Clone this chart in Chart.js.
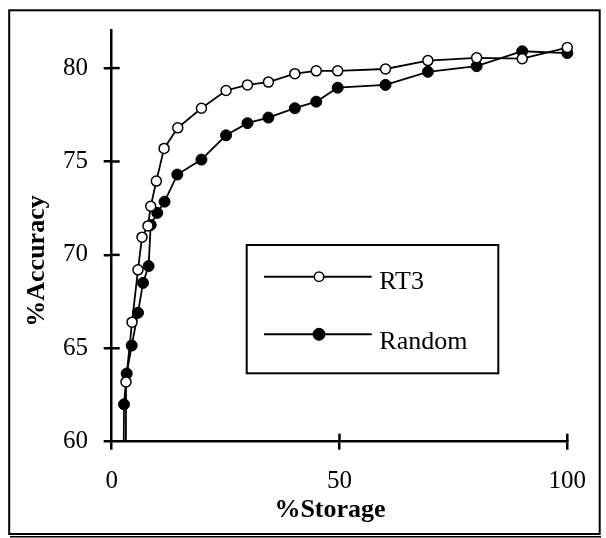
<!DOCTYPE html>
<html>
<head>
<meta charset="utf-8">
<script src="https://cdn.jsdelivr.net/npm/chart.js@4.4.0/dist/chart.umd.min.js"></script>
<style>
  html, body { margin: 0; padding: 0; background: #fff; }
  #wrap { position: relative; width: 606px; height: 538px; }
</style>
</head>
<body>
<div id="wrap"><canvas id="c" width="606" height="538"></canvas></div>
<script>
// ---- data ----
const seriesNames = ['RT3', 'Random'];
const rt3Storage  = [3.1, 3.14, 4.46, 5.77, 6.65, 7.97, 8.56, 9.8, 11.5, 14.5, 19.7, 25.1, 29.8, 34.4, 40.2, 44.9, 49.6, 60.1, 69.4, 80.1, 90.1, 100];
const rt3Accuracy = [55, 63.2, 66.4, 69.2, 70.95, 71.55, 72.6, 73.95, 75.7, 76.8, 77.85, 78.8, 79.1, 79.25, 79.7, 79.85, 79.85, 79.95, 80.4, 80.55, 80.5, 81.1];
const randomStorage  = [2.5, 2.7, 3.29, 4.39, 5.77, 6.87, 8.1, 8.56, 10.0, 11.6, 14.4, 19.7, 25.1, 29.8, 34.4, 40.2, 44.9, 49.6, 60.1, 69.4, 80.1, 90.1, 100];
const randomAccuracy = [55, 62.0, 63.65, 65.15, 66.9, 68.5, 69.4, 71.6, 72.25, 72.85, 74.3, 75.1, 76.4, 77.05, 77.35, 77.85, 78.2, 78.95, 79.1, 79.8, 80.1, 80.9, 80.8];
const xTickValues = [0, 50, 100];
const yTickValues = [60, 65, 70, 75, 80];
const xTitle = '%Storage';
const yTitle = '%Accuracy';

// ---- styles ----
const FONT = '"Liberation Serif", "Times New Roman", serif';
const W = 606, H = 538;
const AXIS_LEFT = 111.7, AXIS_BOTTOM = 441.7, AXIS_TOP = 30.5, AXIS_RIGHT = 567.3;
const TICK = 8, AXIS_W = 2.5;

function pts(xs, ys) { return xs.map((x, i) => ({ x: x, y: ys[i] })); }

const decor = {
  id: 'decor',
  beforeDraw(chart) {
    const ctx = chart.ctx;
    ctx.save();
    ctx.fillStyle = '#fff';
    ctx.fillRect(0, 0, chart.width, chart.height);
    ctx.restore();
  },
  afterDraw(chart) {
    const ctx = chart.ctx;
    const xs = chart.scales.x, ys = chart.scales.y;
    const area = chart.chartArea;
    ctx.save();
    // inner halves of tick marks
    ctx.strokeStyle = '#000';
    ctx.lineWidth = AXIS_W;
    ys.ticks.forEach(t => {
      if (t.value === ys.min) return;
      const y = ys.getPixelForValue(t.value);
      ctx.beginPath(); ctx.moveTo(area.left, y); ctx.lineTo(area.left + TICK, y); ctx.stroke();
    });
    xs.ticks.forEach(t => {
      if (t.value === xs.min) return;
      const x = xs.getPixelForValue(t.value);
      ctx.beginPath(); ctx.moveTo(x, area.bottom); ctx.lineTo(x, area.bottom - TICK); ctx.stroke();
    });

    // axis titles
    ctx.fillStyle = '#000';
    ctx.font = 'bold 26px ' + FONT;
    ctx.textAlign = 'center';
    ctx.textBaseline = 'middle';
    ctx.fillText(xTitle, 330, 510);
    ctx.save();
    ctx.translate(37, 261);
    ctx.rotate(-Math.PI / 2);
    ctx.fillText(yTitle, 0, 0);
    ctx.restore();

    // legend box
    const bx = 246.7, by = 245, bw = 251.6, bh = 128.3;
    ctx.fillStyle = '#fff';
    ctx.fillRect(bx, by, bw, bh);
    ctx.lineWidth = 2;
    ctx.strokeStyle = '#000';
    ctx.strokeRect(bx, by, bw, bh);
    const rows = [
      { y: 276.7, ty: 282, r: 4.7 },
      { y: 334.3, ty: 342, r: 6 }
    ];
    chart.data.datasets.forEach((ds, i) => {
      const row = rows[i];
      ctx.strokeStyle = ds.borderColor;
      ctx.lineWidth = 2;
      ctx.beginPath(); ctx.moveTo(264, row.y); ctx.lineTo(371.7, row.y); ctx.stroke();
      ctx.beginPath(); ctx.arc(319, row.y, row.r, 0, Math.PI * 2);
      ctx.fillStyle = ds.pointBackgroundColor; ctx.fill();
      ctx.lineWidth = ds.pointBorderWidth; ctx.strokeStyle = ds.pointBorderColor; ctx.stroke();
      ctx.fillStyle = '#000';
      ctx.font = '26px ' + FONT;
      ctx.textAlign = 'left';
      ctx.textBaseline = 'middle';
      ctx.fillText(ds.label, 379.3, row.ty);
    });

    // outer frame
    ctx.strokeStyle = '#000';
    ctx.lineWidth = 2;
    ctx.strokeRect(9.2, 10.3, 590.5, 523.7);
    ctx.lineWidth = 1.5;
    ctx.beginPath(); ctx.moveTo(10, 536.7); ctx.lineTo(601, 536.7); ctx.stroke();
    ctx.restore();
  }
};

const chart = new Chart(document.getElementById('c'), {
  type: 'line',
  data: {
    datasets: [
      {
        label: seriesNames[0],
        data: pts(rt3Storage, rt3Accuracy),
        borderColor: '#000', borderWidth: 1.8,
        pointRadius: 5, pointBackgroundColor: '#fff', pointBorderColor: '#000', pointBorderWidth: 1.5,
        pointHoverRadius: 5, tension: 0,
        clip: { left: 0, top: 10, right: 10, bottom: 0 }
      },
      {
        label: seriesNames[1],
        data: pts(randomStorage, randomAccuracy),
        borderColor: '#000', borderWidth: 1.8,
        pointRadius: 5.5, pointBackgroundColor: '#000', pointBorderColor: '#000', pointBorderWidth: 1,
        pointHoverRadius: 5.5, tension: 0,
        clip: { left: 0, top: 10, right: 10, bottom: 0 }
      }
    ]
  },
  options: {
    responsive: false,
    animation: false,
    devicePixelRatio: 1,
    layout: { padding: { top: AXIS_TOP, right: W - AXIS_RIGHT, left: 0, bottom: 0 } },
    plugins: { legend: { display: false }, tooltip: { enabled: false } },
    scales: {
      x: {
        type: 'linear', min: 0, max: 100,
        afterBuildTicks: s => { s.ticks = xTickValues.map(v => ({ value: v })); },
        afterFit: s => { s.height = H - AXIS_BOTTOM; },
        ticks: { color: '#000', font: { family: FONT, size: 25 }, padding: 16.3, maxRotation: 0 },
        grid: { drawOnChartArea: false, drawTicks: true, tickLength: TICK, color: '#000', lineWidth: AXIS_W },
        border: { display: true, color: '#000', width: AXIS_W },
        title: { display: false, text: xTitle }
      },
      y: {
        type: 'linear', min: 60, max: 82,
        afterBuildTicks: s => { s.ticks = yTickValues.map(v => ({ value: v })); },
        afterFit: s => { s.width = AXIS_LEFT; },
        ticks: { color: '#000', font: { family: FONT, size: 25 }, padding: 15.7 },
        grid: { drawOnChartArea: false, drawTicks: true, tickLength: TICK, color: '#000', lineWidth: AXIS_W },
        border: { display: true, color: '#000', width: AXIS_W },
        title: { display: false, text: yTitle }
      }
    }
  },
  plugins: [decor]
});
</script>
</body>
</html>
